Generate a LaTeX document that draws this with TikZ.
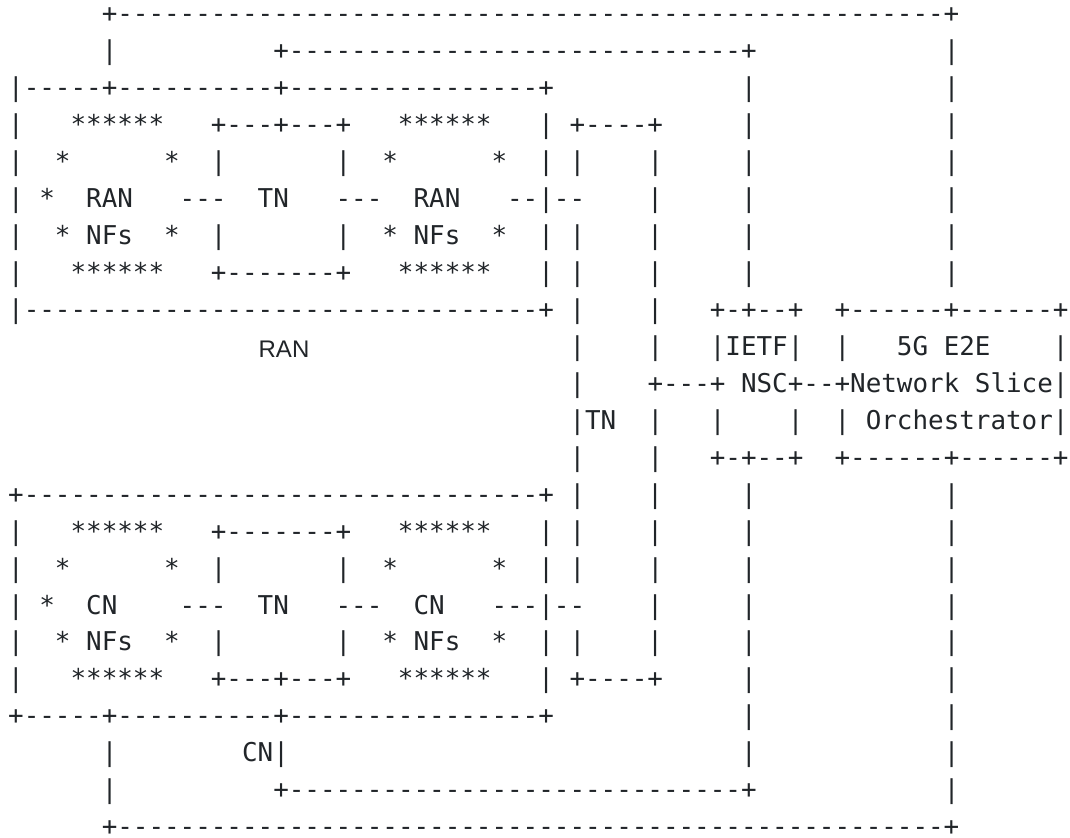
\documentclass[tikz,border=0pt]{standalone}
\usepackage{fontspec}
\setmonofont{DejaVu Sans Mono}
\setsansfont{Liberation Sans}
\definecolor{ink}{HTML}{212529}

% the rows of the figure, spaces kept
\begingroup\obeyspaces%
\gdef\rowA{      +-----------------------------------------------------+}%
\gdef\rowB{      |          +-----------------------------+            |}%
\gdef\rowC{|-----+----------+----------------+            |            |}%
\gdef\rowD{|   ******   +---+---+   ******   | +----+     |            |}%
\gdef\rowE{|  *      *  |       |  *      *  | |    |     |            |}%
\gdef\rowF{| *  RAN   ---  TN   ---  RAN   --|--    |     |            |}%
\gdef\rowG{|  * NFs  *  |       |  * NFs  *  | |    |     |            |}%
\gdef\rowH{|   ******   +-------+   ******   | |    |     |            |}%
\gdef\rowI{|---------------------------------+ |    |   +-+--+  +------+------+}%
\gdef\rowJ{                                    |    |   |IETF|  |   5G E2E    |}%
\gdef\rowK{                                    |    +---+ NSC+--+Network Slice|}%
\gdef\rowL{                                    |TN  |   |    |  | Orchestrator|}%
\gdef\rowM{                                    |    |   +-+--+  +------+------+}%
\gdef\rowN{+---------------------------------+ |    |     |            |}%
\gdef\rowO{|   ******   +-------+   ******   | |    |     |            |}%
\gdef\rowP{|  *      *  |       |  *      *  | |    |     |            |}%
\gdef\rowQ{| *  CN    ---  TN   ---  CN   ---|--    |     |            |}%
\gdef\rowR{|  * NFs  *  |       |  * NFs  *  | |    |     |            |}%
\gdef\rowS{|   ******   +---+---+   ******   | +----+     |            |}%
\gdef\rowT{+-----+----------+----------------+            |            |}%
\gdef\rowU{      |        CN|                             |            |}%
\gdef\rowV{      |          +-----------------------------+            |}%
\gdef\rowW{      +-----------------------------------------------------+}%
\endgroup

\begin{document}
\begin{tikzpicture}
[
x=0.5pt, y=-0.5pt,
every node/.style={inner sep=0pt, outer sep=0pt, text=ink},
asciirow/.style={anchor=base west, font=\ttfamily\fontsize{12.95pt}{15pt}\selectfont},
plainlabel/.style={anchor=base, font=\sffamily\fontsize{12pt}{14pt}\selectfont}
]
\path[use as bounding box, fill=white] (0,0) rectangle (1070,837);

\foreach \r [count=\i] in {A,...,W}
  \node[asciirow] (row\r) at (8.2, {22.8+36.95*(\i-1)}) {\relax\csname row\r\endcsname};

\node[plainlabel] (ranlabel) at (284,357.5) {RAN};
\end{tikzpicture}
\end{document}
